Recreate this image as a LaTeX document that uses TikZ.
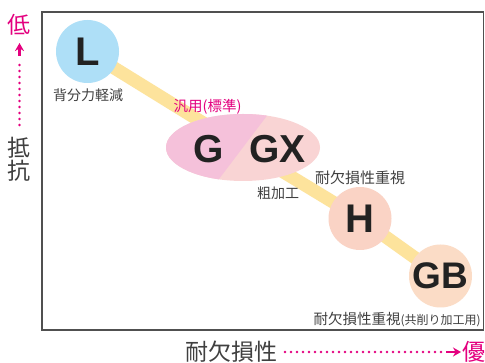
\documentclass[tikz,border=0pt]{standalone}
\usepackage{fontspec}
\setmainfont{Liberation Sans}
\newfontfamily\jp{Noto Sans CJK JP}
\usetikzlibrary{backgrounds,arrows.meta,shapes.geometric}
\definecolor{mag}{HTML}{E4007F}
\definecolor{band}{HTML}{FDE39C}
\definecolor{lblue}{HTML}{AEDFF7}
\definecolor{pinkA}{HTML}{F5C1DA}
\definecolor{pinkB}{HTML}{F9D4D4}
\definecolor{hcol}{HTML}{FAD3C5}
\definecolor{gbcol}{HTML}{FBDCC6}
\definecolor{txt}{HTML}{404040}
\definecolor{ink}{HTML}{222222}
\definecolor{frame}{HTML}{505050}
\tikzset{
  ball/.style={circle, inner sep=0pt, minimum size=63pt, font=\fontsize{40}{40}\selectfont\bfseries, text=ink},
  bigletter/.style={inner sep=0pt, font=\fontsize{39}{39}\selectfont\bfseries, text=ink},
  lbl/.style={inner sep=0pt, font=\jp\fontsize{14}{14}\selectfont, text=txt},
  axislbl/.style={inner sep=0pt, font=\jp\fontsize{23}{23}\selectfont, text=txt},
  maglbl/.style={inner sep=0pt, font=\jp\fontsize{23}{23}\selectfont, text=mag},
  dots/.style={mag, line width=2.6pt, line cap=round, dash pattern=on 0pt off 6pt},
  magarrow/.style={mag, line width=2.4pt, -{Stealth[length=8pt,width=9pt]}},
  bandline/.style={band, line width=13pt}
}
\begin{document}
\begin{tikzpicture}[x=1pt,y=-1pt]
\useasboundingbox (0,0) rectangle (485,363);
% frame
\draw[frame, line width=1.2pt] (42,12) rectangle (483.5,330);
% balls
\node[ball, fill=lblue] (L) at (87.5,51.5) {L};
\node[ball, fill=hcol] (H) at (360,218.5) {H};
\node[ball, fill=gbcol, font=\fontsize{37}{37}\selectfont\bfseries] (GB) at (440.5,276) {GB};
% ellipse G / GX
\node[draw=none, fill=pinkB, ellipse, minimum width=154pt, minimum height=67pt, inner sep=0pt] (E) at (243,147.5) {};
\begin{scope}
  \clip (243,147.5) ellipse [x radius=77, y radius=33.5];
  \fill[pinkA] (150,100) -- (269,113) -- (216,183) -- (150,190) -- cycle;
\end{scope}
\node[bigletter] (G) at (209,149) {G};
\node[bigletter] (GX) at (277.5,149) {GX};
\begin{scope}[on background layer]
  \fill[white] (0,0) rectangle (485,363);
  \draw[bandline] (L.center) -- (E.center) -- (H.center) -- (GB.center);
\end{scope}
% labels
\node[lbl, anchor=west] (lL) at (53,95.5) {背分力軽減};
\node[lbl, text=mag, anchor=center, font=\jp\fontsize{14.5}{14.5}\selectfont] (lG) at (207.5,107) {汎用(標準)};
\node[lbl, anchor=center] (lGX) at (278,193) {粗加工};
\node[lbl, anchor=center, font=\jp\fontsize{15}{15}\selectfont] (lH) at (360,178) {耐欠損性重視};
\node[lbl, anchor=east, font=\jp\fontsize{14.5}{14.5}\selectfont] (lGB) at (481,320) {耐欠損性重視{\fontsize{12}{12}\selectfont(共削り加工用)}};
% left axis
\node[maglbl] (low) at (19.5,25) {低};
\node[axislbl] (r1) at (19.5,148) {抵};
\node[axislbl] (r2) at (19.5,171) {抗};
\coordinate (ltop) at (19.5,43);
\coordinate (lbot) at (19.5,125);
\draw[dots] (lbot) -- (19.5,61);
\draw[magarrow] (19.5,56) -- (ltop);
% bottom axis
\node[axislbl] (dur) at (231,352) {耐欠損性};
\node[maglbl] (good) at (474,352) {優};
\coordinate (bl) at (285,352);
\coordinate (br) at (461,352);
\draw[dots] (bl) -- (441,352);
\draw[magarrow] (446,352) -- (br);
\end{tikzpicture}
\end{document}
